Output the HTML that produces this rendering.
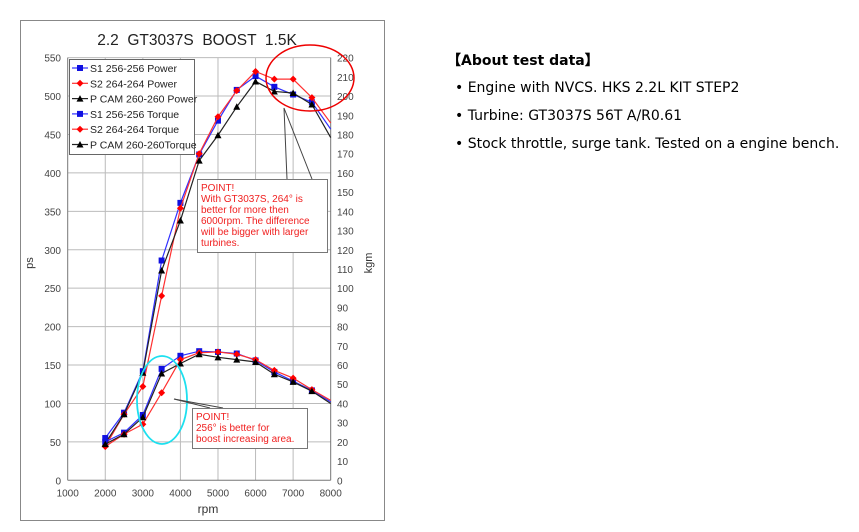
<!DOCTYPE html>
<html><head><meta charset="utf-8"><style>
body{margin:0;background:#fff;width:859px;height:532px;overflow:hidden;font-family:"Liberation Sans","DejaVu Sans",sans-serif}
svg{position:absolute;left:0;top:0}
#info{position:absolute;left:447px;top:50px;font-size:14px;color:#000;font-family:"DejaVu Sans","Liberation Sans",sans-serif}
#info b{display:block;font-size:14px;margin-bottom:10px}
#info div{margin:0 0 12px 8px}
</style></head><body>
<svg id="s" width="859" height="532" font-family="Liberation Sans, DejaVu Sans, sans-serif">
<rect x="20.5" y="20.5" width="364" height="500" fill="#fff" stroke="#888"/>
<text x="197" y="45" font-size="15.5" text-anchor="middle" fill="#222" xml:space="preserve">2.2  GT3037S  BOOST  1.5K</text>
<g id="grid"></g>
<g id="series"></g>
<rect x="69.5" y="59.5" width="125" height="95" fill="#fff" stroke="#666"/>
<g id="leg" font-size="10.5" fill="#222"></g>
<text x="33" y="263" font-size="11" transform="rotate(-90 33 263)" text-anchor="middle" fill="#333">ps</text>
<text x="372" y="263" font-size="11" transform="rotate(-90 372 263)" text-anchor="middle" fill="#333">kgm</text>
<text x="208" y="513" font-size="12" text-anchor="middle" fill="#333">rpm</text>
<ellipse cx="310" cy="78" rx="44" ry="33" fill="none" stroke="#e00" stroke-width="1.5"/>
<ellipse cx="162" cy="400" rx="25" ry="44" fill="none" stroke="#1de0ef" stroke-width="1.8"/>
<polyline points="287,179 284,108 312,179" fill="none" stroke="#444" stroke-width="1"/>
<polyline points="174,399 223,408" fill="none" stroke="#444"/>
<polyline points="174,399 210,408" fill="none" stroke="#444"/>
<rect x="197.5" y="179.5" width="130" height="73" fill="#fff" stroke="#777"/>
<text font-size="10" fill="#f02020"><tspan x="201" y="191">POINT!</tspan><tspan x="201" y="202">With GT3037S, 264° is</tspan><tspan x="201" y="213">better for more then</tspan><tspan x="201" y="224">6000rpm. The difference</tspan><tspan x="201" y="235">will be bigger with larger</tspan><tspan x="201" y="246">turbines.</tspan></text>
<rect x="192.5" y="408.5" width="115" height="40" fill="#fff" stroke="#777"/>
<text font-size="10" fill="#f02020"><tspan x="196" y="420">POINT!</tspan><tspan x="196" y="431">256° is better for</tspan><tspan x="196" y="442">boost increasing area.</tspan></text>
</svg>
<div id="info"><b>【About test data】</b>
<div>• Engine with NVCS. HKS 2.2L KIT STEP2</div>
<div>• Turbine: GT3037S 56T A/R0.61</div>
<div>• Stock throttle, surge tank. Tested on a engine bench.</div></div>
<script>
var NS="http://www.w3.org/2000/svg";
function X(r){return 67.7+(r-1000)*0.03757}
function Y(v){return 480.3-v*0.7685}
function el(t,a,p,txt){var e=document.createElementNS(NS,t);for(var k in a)e.setAttribute(k,a[k]);if(txt!=null)e.textContent=txt;document.getElementById(p).appendChild(e);return e}
for(var r=2000;r<=7000;r+=1000)el('line',{x1:X(r),x2:X(r),y1:Y(0),y2:Y(550),stroke:'#bbb'},'grid');
for(var v=50;v<=550;v+=50)el('line',{x1:X(1000),x2:X(8000),y1:Y(v),y2:Y(v),stroke:'#bbb'},'grid');
el('line',{x1:X(1000),x2:X(1000),y1:Y(0),y2:Y(550),stroke:'#777'},'grid');
el('line',{x1:X(8000),x2:X(8000),y1:Y(0),y2:Y(550),stroke:'#777'},'grid');
el('line',{x1:X(1000),x2:X(8000),y1:Y(0),y2:Y(0),stroke:'#777'},'grid');
for(var v=0;v<=550;v+=50)el('text',{x:61,y:Y(v)+4,'font-size':10,'text-anchor':'end',fill:'#444'},'grid',v);
for(var k=0;k<=220;k+=10)el('text',{x:337,y:Y(k*2.5)+4,'font-size':10,fill:'#444'},'grid',k);
for(var r=1000;r<=8000;r+=1000)el('text',{x:X(r),y:Y(0)+16,'font-size':10,'text-anchor':'middle',fill:'#444'},'grid',r);
var rp=[2000,2500,3000,3500,4000,4500,5000,5500,6000,6500,7000,7500,8000];
var S=[
['#3030ff','#1010e0','sq',[55,88,142,286,361,424,468,508,526,512,502,492,457]],
['#ff3030','#ff0000','di',[44,86,122,240,354,425,473,507,532,522,522,498,465]],
['#222','#000','tr',[48,86,140,273,338,416,449,486,519,506,504,489,446]],
['#3030ff','#1010e0','sq',[50,62,85,145,162,168,167,165,156,141,129,117,102]],
['#ff3030','#ff0000','di',[44,60,73,114,157,166,167,164,157,143,133,118,104]],
['#222','#000','tr',[47,60,82,139,152,164,160,157,154,138,128,116,100]]];
function mk(t,x,y,c,p){if(t=='sq')el('rect',{x:x-3,y:y-3,width:6,height:6,fill:c},p);
else if(t=='di')el('polygon',{points:(x)+','+(y-3.5)+' '+(x+3.5)+','+y+' '+x+','+(y+3.5)+' '+(x-3.5)+','+y,fill:c},p);
else el('polygon',{points:x+','+(y-3.5)+' '+(x+3.5)+','+(y+3)+' '+(x-3.5)+','+(y+3),fill:c},p);}
S.forEach(function(s){var pts=s[3].map(function(v,i){return X(rp[i])+','+Y(v)}).join(' ');
el('polyline',{points:pts,fill:'none',stroke:s[0],'stroke-width':1.2},'series');
s[3].forEach(function(v,i){if(i<12)mk(s[2],X(rp[i]),Y(v),s[1],'series')});});
var L=['S1 256-256 Power','S2 264-264 Power','P CAM 260-260 Power','S1 256-256 Torque','S2 264-264 Torque','P CAM 260-260Torque'];
L.forEach(function(t,i){var y=68+i*15.3;el('line',{x1:72,x2:88,y1:y,y2:y,stroke:S[i][0],'stroke-width':1.2},'leg');mk(S[i][2],80,y,S[i][1],'leg');el('text',{x:90,y:y+4},'leg',t)});
</script>
</body></html>
